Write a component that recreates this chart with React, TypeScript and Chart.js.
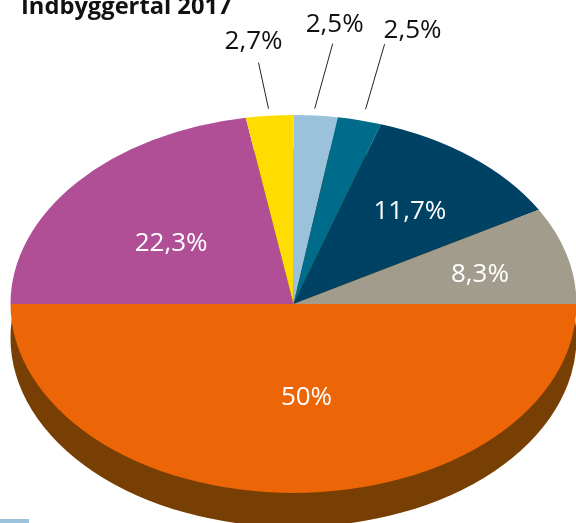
import React, { useEffect, useRef } from "react";
import { Chart, registerables } from "chart.js";

Chart.register(...registerables);

const titleText = "Indbyggertal 2017";
const shareValues = [2.5, 2.5, 11.7, 8.3, 50, 22.3, 2.7];
const sliceColors = ["#9BC2DB", "#006C8C", "#004263", "#A19C8C", "#EC6506", "#B04F96", "#FFDD00"];
const labelColors = ["#111111", "#111111", "#FFFFFF", "#FFFFFF", "#FFFFFF", "#FFFFFF", "#111111"];
// label offset from the midpoint of each slice's outer edge
const labelOffsets = [[19, -91], [53, -90], [-62, 54], [-87, 19], [13, -95], [94, 61], [-16, -74]];
// leader line offsets from the same midpoint (outer x, outer y, inner x, inner y)
const leaderOffsets = [[17, -72, -1, -7], [25, -76, 6, -11], null, null, null, null, [-11, -53, -1, -7]];

const depthColor = "#783F04";
const CENTER_X = 293.5;
const CENTER_Y = 304;
const RADIUS_X = 283;
const RADIUS_Y = 189;
const DEPTH = 34;

function tilt(ctx: CanvasRenderingContext2D, el: any, dy: number) {
  ctx.translate(CENTER_X, CENTER_Y + dy);
  ctx.scale(RADIUS_X / el.outerRadius, RADIUS_Y / el.outerRadius);
  ctx.translate(-el.x, -el.y);
}

const tiltedPie = {
  id: "tiltedPie",
  beforeDatasetsDraw(chart: any) {
    const ctx = chart.ctx;
    const arcs = chart.getDatasetMeta(0).data;
    ctx.save();
    tilt(ctx, arcs[0], DEPTH);
    arcs.forEach((arc: any) => {
      const real = arc.options;
      const side = Object.create(real);
      Object.defineProperty(side, "backgroundColor", { value: depthColor });
      arc.options = side;
      arc.draw(ctx);
      arc.options = real;
    });
    ctx.restore();
    ctx.save();
    tilt(ctx, arcs[0], 0);
  },
  afterDatasetsDraw(chart: any) {
    const ctx = chart.ctx;
    ctx.restore();
    const arcs = chart.getDatasetMeta(0).data;

    ctx.save();
    ctx.fillStyle = "#111111";
    ctx.font = 'bold 23.7px "Open Sans"';
    ctx.textAlign = "left";
    ctx.textBaseline = "alphabetic";
    ctx.fillText(titleText, 21, 14);

    ctx.fillStyle = sliceColors[0];
    ctx.fillRect(0, 519, 29, 4);

    arcs.forEach((arc: any, i: number) => {
      const mid = (arc.startAngle + arc.endAngle) / 2;
      const ex = CENTER_X + RADIUS_X * Math.cos(mid);
      const ey = CENTER_Y + RADIUS_Y * Math.sin(mid);
      const leader = leaderOffsets[i];
      if (leader) {
        ctx.strokeStyle = "#222222";
        ctx.lineWidth = 1;
        ctx.beginPath();
        ctx.moveTo(ex + leader[0], ey + leader[1]);
        ctx.lineTo(ex + leader[2], ey + leader[3]);
        ctx.stroke();
      }
      ctx.fillStyle = labelColors[i];
      ctx.font = '26px "Open Sans"';
      ctx.textAlign = "center";
      ctx.textBaseline = "middle";
      const text = String(shareValues[i]).replace(".", ",") + "%";
      ctx.fillText(text, ex + labelOffsets[i][0], ey + labelOffsets[i][1]);
    });
    ctx.restore();
  },
};

export default function App() {
  const ref = useRef<HTMLCanvasElement>(null);
  useEffect(() => {
    const chart = new Chart(ref.current!, {
      type: "pie",
      data: {
        labels: shareValues.map((v) => String(v).replace(".", ",") + "%"),
        datasets: [
          {
            data: shareValues,
            backgroundColor: sliceColors,
            borderWidth: 0,
            clip: false,
          } as any,
        ],
      },
      options: {
        responsive: false,
        animation: false,
        layout: { padding: 0 },
        plugins: { legend: { display: false }, tooltip: { enabled: false }, title: { display: false } },
      },
      plugins: [tiltedPie],
    });
    return () => chart.destroy();
  }, []);
  return (
    <div style={{ position: "fixed", left: 0, top: 0, width: 576, height: 523, background: "#fff" }}>
      <canvas ref={ref} width={576} height={523} style={{ display: "block" }} />
    </div>
  );
}
